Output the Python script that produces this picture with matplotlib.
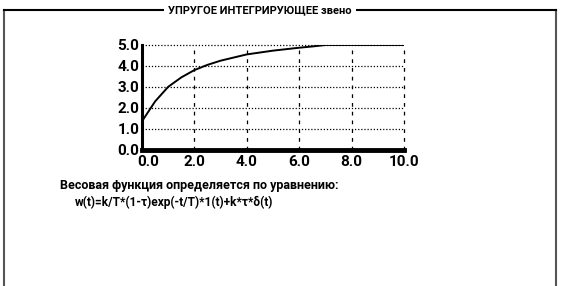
import matplotlib
matplotlib.use('Agg')
import matplotlib.pyplot as plt
from matplotlib.lines import Line2D
from matplotlib.transforms import ScaledTranslation

# values
t_values = [0.0, 0.5, 1.0, 1.5, 2.0, 2.5, 3.0, 3.5, 4.0, 5.0, 6.0, 6.5, 7.0, 8.0, 9.0, 10.0]
w_values = [1.35, 2.3, 3.0, 3.45, 3.8, 4.05, 4.25, 4.4, 4.55, 4.73, 4.87, 4.93, 5.0, 5.0, 5.0, 5.0]
x_ticks = [0, 2, 4, 6, 8, 10]
x_labels = ['0.0', '2.0', '4.0', '6.0', '8.0', '10.0']
y_ticks = [0, 1, 2, 3, 4, 5]
y_labels = ['0.0', '1.0', '2.0', '3.0', '4.0', '5.0']

title = 'УПРУГОЕ ИНТЕГРИРУЮЩЕЕ звено'
line1 = 'Весовая функция определяется по уравнению:'
line2 = 'w(t)=k/T*(1-τ)exp(-t/T)*1(t)+k*τ*δ(t)'

fonts = ['Roboto', 'DejaVu Sans']
W, H = 561, 286

fig = plt.figure(figsize=(W / 100, H / 100), dpi=100)

# outer frame
fig.add_artist(Line2D([4 / W, 4 / W], [0, 1 - 10 / H], color='#555555', lw=1.5))
fig.add_artist(Line2D([556 / W, 556 / W], [0, 1 - 10 / H], color='#555555', lw=1.5))
fig.add_artist(Line2D([4 / W, 556 / W], [1 - 10 / H, 1 - 10 / H], color='black', lw=1.5))
fig.text(260 / W, 1 - 10 / H, title, ha='center', va='center', fontsize=8,
         fontweight='bold', family=fonts,
         bbox=dict(facecolor='white', edgecolor='none', pad=3))

ax = fig.add_axes([142 / W, 1 - 149.5 / H, 262 / W, 104.5 / H])
ax.plot(t_values, w_values, color='black', lw=1.4, zorder=3)
ax.set_xlim(0, 10)
ax.set_ylim(0, 5)

for y in y_ticks[1:]:
    ax.axhline(y, color='black', lw=0.9, linestyle=(0, (1, 1.5)), zorder=1, clip_on=False)
for x in x_ticks[1:]:
    ax.axvline(x, color='black', lw=0.9, linestyle=(0, (3, 4)), zorder=1, clip_on=False)

ax.spines['top'].set_visible(False)
ax.spines['right'].set_visible(False)
ax.spines['left'].set_linewidth(2.2)
ax.spines['bottom'].set_linewidth(3.5)
ax.set_xticks(x_ticks)
ax.set_xticklabels(x_labels)
ax.set_yticks(y_ticks)
ax.set_yticklabels(y_labels)
ax.tick_params(length=0, labelsize=11)
ax.tick_params(axis='x', pad=4)
ax.tick_params(axis='y', pad=2)
for lab in ax.get_xticklabels() + ax.get_yticklabels():
    lab.set_fontweight('bold')
    lab.set_family(fonts)
# first x label sits a bit to the right, clear of the y label
first = ax.get_xticklabels()[0]
first.set_transform(first.get_transform() + ScaledTranslation(6 / 100, 0, fig.dpi_scale_trans))

fig.text(60 / W, 1 - 185 / H, line1, ha='left', va='center', fontsize=9,
         fontweight='bold', family=fonts)
fig.text(75 / W, 1 - 202 / H, line2, ha='left', va='center', fontsize=8.6,
         fontweight='bold', family=fonts)

fig.savefig('out.png', dpi=100)
